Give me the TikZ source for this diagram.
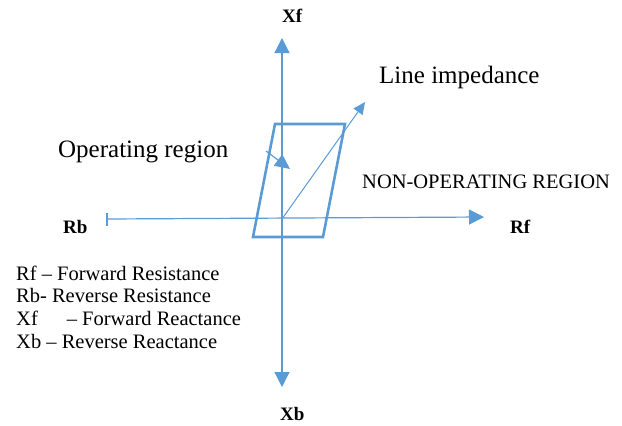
\documentclass[tikz,border=0pt]{standalone}
\usepackage{fontspec}
\setmainfont{Liberation Serif}
\usetikzlibrary{arrows.meta}
\definecolor{ablue}{RGB}{91,155,213}
\begin{document}
\begin{tikzpicture}[x=1pt,y=-1pt,
  axis/.style={draw=ablue,line width=1.2pt},
  bigtip/.style={-{Triangle[length=15pt,width=15pt]}},
  lbl/.style={font=\fontsize{19}{21}\selectfont\bfseries,anchor=base west,inner sep=0},
  txt/.style={anchor=base west,inner sep=0},
  leg/.style={font=\fontsize{20.5}{23}\selectfont,anchor=base west,inner sep=0}]
\useasboundingbox (0,0) rectangle (622,426);
% coordinates
\coordinate (O) at (282,219);
\coordinate (xtop) at (282,38);
\coordinate (xbot) at (282,387);
\coordinate (rleft) at (107,219);
\coordinate (rright) at (484,217);
\coordinate (limp) at (365,102);
\coordinate (opS) at (266,151);
\coordinate (opE) at (290,169);
% axes
\draw[axis,bigtip] (O) -- (xtop);
\draw[axis,bigtip] (O) -- (xbot);
\draw[axis,bigtip] (rleft) -- (rright);
\draw[axis] (107,213) -- (107,226);
% parallelogram
\draw[draw=ablue,line width=2.6pt,line join=miter] (275,124) -- (345,124) -- (323,237) -- (253,237) -- cycle;
% line impedance
\draw[draw=ablue,line width=1pt,-{Triangle[length=12pt,width=11pt]}] (O) -- (limp);
% operating region arrow
\draw[draw=ablue,line width=1.2pt,-{Triangle[length=15pt,width=14pt]}] (opS) -- (opE);
% labels
\node[lbl] (xf) at (282,22) {Xf};
\node[lbl] (xb) at (280,420) {Xb};
\node[lbl] (rb) at (63,233) {Rb};
\node[lbl] (rf) at (510,233) {Rf};
\node[txt,font=\fontsize{25}{28}\selectfont] (li) at (379,83) {Line impedance};
\node[txt,font=\fontsize{25}{28}\selectfont] (op) at (58,157) {Operating region};
\node[txt,font=\fontsize{20.5}{23}\selectfont] (nop) at (362,188) {NON-OPERATING REGION};
% legend
\node[leg] (l1) at (16,280) {Rf – Forward Resistance};
\node[leg] (l2) at (16,302) {Rb- Reverse Resistance};
\node[leg] (l3) at (16,325) {Xf\hspace{29pt}– Forward Reactance};
\node[leg] (l4) at (16,348) {Xb – Reverse Reactance};
\end{tikzpicture}
\end{document}
